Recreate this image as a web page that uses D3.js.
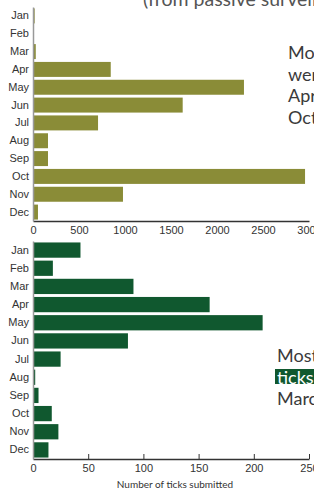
<!DOCTYPE html>
<html>
<head>
<meta charset="utf-8">
<script src="https://cdn.jsdelivr.net/npm/d3@7"></script>
<style>
  body { margin: 0; background: #fff; overflow: hidden; }
  svg { display: block; font-family: Lato, "Open Sans", sans-serif; }
  .axis text { fill: #333; font-size: 11px; }
  .note { fill: #3a3a3a; font-size: 18px; }
</style>
</head>
<body>
<div id="chart"></div>
<script>
const months = ["Jan", "Feb", "Mar", "Apr", "May", "Jun", "Jul", "Aug", "Sep", "Oct", "Nov", "Dec"];
// passive surveillance records per month
const passiveVals = [18, 3, 30, 845, 2293, 1627, 707, 163, 163, 2957, 978, 54];
const passiveTicks = [0, 500, 1000, 1500, 2000, 2500, 3000];
// ticks submitted per month
const submittedVals = [43, 18, 91, 160, 208, 86, 25, 2, 5, 17, 23, 14];
const submittedTicks = [0, 50, 100, 150, 200, 250];

const W = 314, H = 490;
const svg = d3.select("#chart").append("svg")
    .attr("width", W)
    .attr("height", H);

function drawBars(top, bottom, vals, max, ticks, color, innerTicks) {
	let x = d3.scaleLinear().domain([0, max]).range([33, 309]);
	let y = d3.scaleBand().domain(months).range([top, bottom]).paddingInner(0.16).paddingOuter(0.08);

	let g = svg.append("g");

	g.selectAll(".bar")
		.data(months)
		.enter()
		.append("rect")
			.attr("x", x(0))
			.attr("y", (d) => y(d))
			.attr("width", (d, i) => Math.max(1, x(vals[i]) - x(0)))
			.attr("height", y.bandwidth())
			.attr("fill", color);

	let xAxis = g.append("g")
		.attr("class", "axis")
		.attr("transform", "translate(0," + bottom + ")")
		.call(d3.axisBottom(x).tickValues(ticks).tickFormat(d3.format("d"))
			.tickSize(innerTicks ? -5 : 0).tickPadding(5).tickSizeOuter(0));
	xAxis.select(".domain").attr("stroke", "#333").attr("stroke-width", 1.5);
	xAxis.selectAll(".tick line").attr("stroke", "#333");

	let yAxis = g.append("g")
		.attr("class", "axis")
		.attr("transform", "translate(" + x(0) + ",0)")
		.call(d3.axisLeft(y).tickSize(0).tickPadding(4));
	yAxis.select(".domain").attr("stroke", "#999").attr("stroke-width", 1.5);
}

drawBars(7, 221, passiveVals, 3000, passiveTicks, "#8a8c37", false);
drawBars(241, 459, submittedVals, 250, submittedTicks, "#10582f", true);

svg.append("text")
	.attr("x", 175).attr("y", 488)
	.attr("text-anchor", "middle")
	.attr("fill", "#333")
	.attr("font-size", 10)
	.text("Number of ticks submitted");

// side notes (cut off by the frame in the original)
svg.append("text")
	.attr("class", "note")
	.attr("x", 143).attr("y", 6)
	.style("fill", "#555")
	.style("font-size", "19.5px")
	.text("(from passive surveillance)");

let topNote = ["Most passive records", "were submitted in", "April and May and in", "October"];
svg.selectAll(".topNote")
	.data(topNote)
	.enter()
	.append("text")
		.attr("class", "note")
		.attr("x", 288)
		.attr("y", (d, i) => 59 + i * 21.5)
		.text((d) => d);

svg.append("rect")
	.attr("x", 275).attr("y", 369)
	.attr("width", 60).attr("height", 15)
	.attr("fill", "#10582f");

let bottomNote = ["Most", "ticks", "March"];
svg.selectAll(".bottomNote")
	.data(bottomNote)
	.enter()
	.append("text")
		.attr("class", "note")
		.attr("x", 277)
		.attr("y", (d, i) => 362 + i * 21.5)
		.style("fill", (d, i) => i == 1 ? "#fff" : null)
		.text((d) => d);
</script>
</body>
</html>
